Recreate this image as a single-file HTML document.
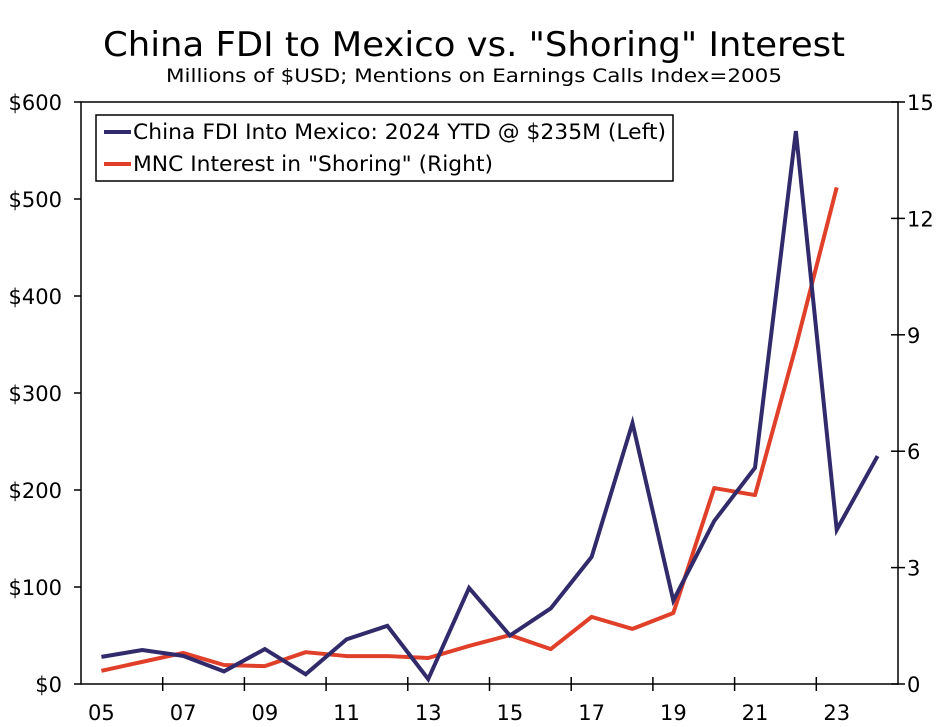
<!DOCTYPE html>
<html><head><meta charset="utf-8"><style>
html,body{margin:0;padding:0;background:#fff;}
svg{display:block;font-family:"DejaVu Sans","Liberation Sans",sans-serif;}
</style></head><body>
<svg id="chart" width="948" height="727" viewBox="0 0 948 727" xmlns="http://www.w3.org/2000/svg">
<text x="474" y="56" text-anchor="middle" font-size="34" textLength="742" lengthAdjust="spacingAndGlyphs">China FDI to Mexico vs. "Shoring" Interest</text>
<text x="474" y="82" text-anchor="middle" font-size="19" textLength="616" lengthAdjust="spacingAndGlyphs">Millions of $USD; Mentions on Earnings Calls Index=2005</text>
<g id="axes"></g>
<g id="series"></g>
<g>
<rect x="96" y="115" width="577" height="66" fill="#fff" stroke="#000" stroke-width="1.5"/>
<line x1="104" y1="132" x2="131" y2="132" stroke="#312a6b" stroke-width="4"/>
<text x="133" y="139" font-size="21" textLength="533" lengthAdjust="spacingAndGlyphs">China FDI Into Mexico: 2024 YTD @ $235M (Left)</text>
<line x1="104" y1="164" x2="131" y2="164" stroke="#e0402a" stroke-width="4"/>
<text x="133" y="171" font-size="21" textLength="360" lengthAdjust="spacingAndGlyphs">MNC Interest in "Shoring" (Right)</text>
</g>
</svg>
<script>
const years = [2005,2006,2007,2008,2009,2010,2011,2012,2013,2014,2015,2016,2017,2018,2019,2020,2021,2022,2023,2024];
const fdiValues = [28,35,29,13,36,10,46,60,5,99,50,78,131,269,86,168,223,570,159,235];
const shoringValues = [0.34,0.57,0.8,0.49,0.46,0.82,0.72,0.72,0.67,0.98,1.26,0.9,1.73,1.42,1.83,5.05,4.87,8.7,12.8];
const leftTicks = [0,100,200,300,400,500,600];
const leftTickLabels = ["$0","$100","$200","$300","$400","$500","$600"];
const rightTicks = [0,3,6,9,12,15];
const xLabels = ["05","07","09","11","13","15","17","19","21","23"];

const NS="http://www.w3.org/2000/svg";
const X0=81,X1=898,Y0=684,Y1=102;
const yrW=(X1-X0)/20;
const xCenter=y=>X0+(y-2005+0.5)*yrW;
const yLeft=v=>Y0-(v/600)*(Y0-Y1);
const yRight=v=>Y0-(v/15)*(Y0-Y1);
function mk(tag,attrs,parent){const e=document.createElementNS(NS,tag);for(const k in attrs)e.setAttribute(k,attrs[k]);parent.appendChild(e);return e;}
const axes=document.getElementById('axes');
const series=document.getElementById('series');

let f=mk('path',{d:`M${X0},${Y0}V${Y1}H${X1}V${Y0}Z`,fill:'none',stroke:'#000','stroke-width':1.5},axes);



leftTicks.forEach((v,i)=>{
  const y=yLeft(v);
  const t=mk('line',{x1:X0-7,x2:X0,y1:y,y2:y,stroke:'#000','stroke-width':1.5},axes);
  
  
  const l=mk('text',{x:X0-19,y:y+8,'text-anchor':'end','font-size':21},axes);
  l.textContent=leftTickLabels[i];
  
  
});
rightTicks.forEach(v=>{
  const y=yRight(v);
  const t=mk('line',{x1:X1-7,x2:X1+7,y1:y,y2:y,stroke:'#000','stroke-width':1.5},axes);
  
  
  const l=mk('text',{x:X1+9,y:y+8,'font-size':21},axes);
  l.textContent=String(v);
  
  
});
for(let k=1;k<10;k++){
  const x=X0+k*2*yrW;
  const t=mk('line',{x1:x,x2:x,y1:Y0-7,y2:Y0+7,stroke:'#000','stroke-width':1.5},axes);
  
  
}
xLabels.forEach((s,i)=>{
  const l=mk('text',{x:xCenter(2005+2*i),y:Y0+36,'text-anchor':'middle','font-size':21},axes);
  l.textContent=s;
  
  
});

const dS=shoringValues.map((v,i)=>(i?'L':'M')+xCenter(years[i])+','+yRight(v)).join('');
const ps=mk('path',{d:dS,fill:'none',stroke:'#e0402a','stroke-width':4,'stroke-linejoin':'round'},series);


const dF=fdiValues.map((v,i)=>(i?'L':'M')+xCenter(years[i])+','+yLeft(v)).join('');
const pf=mk('path',{d:dF,fill:'none',stroke:'#312a6b','stroke-width':4,'stroke-linejoin':'miter'},series);


</script>
</body></html>
